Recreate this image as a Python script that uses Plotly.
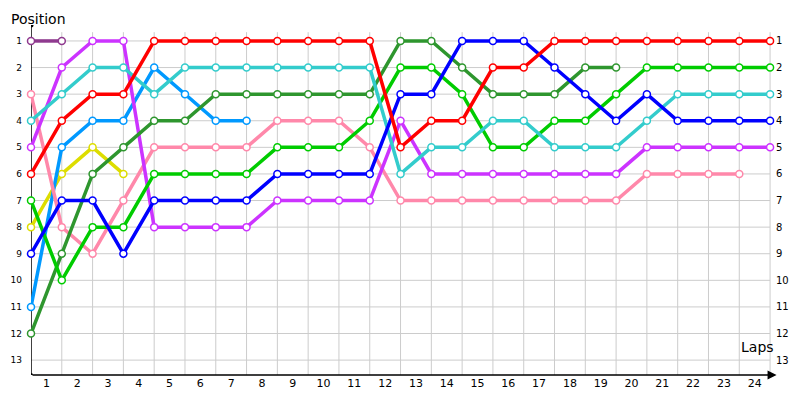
import plotly.graph_objects as go

laps = list(range(0, 25))
lap_labels = [str(i) for i in range(1, 25)]
positions = list(range(1, 14))

red = [6, 4, 3, 3, 1, 1, 1, 1, 1, 1, 1, 1, 5, 4, 4, 2, 2, 1, 1, 1, 1, 1, 1, 1, 1]
blue = [9, 7, 7, 9, 7, 7, 7, 7, 6, 6, 6, 6, 3, 3, 1, 1, 1, 2, 3, 4, 3, 4, 4, 4, 4]
cyan = [4, 3, 2, 2, 3, 2, 2, 2, 2, 2, 2, 2, 6, 5, 5, 4, 4, 5, 5, 5, 4, 3, 3, 3, 3]
green = [7, 10, 8, 8, 6, 6, 6, 6, 5, 5, 5, 4, 2, 2, 3, 5, 5, 4, 4, 3, 2, 2, 2, 2, 2]
darkgreen = [12, 9, 6, 5, 4, 4, 3, 3, 3, 3, 3, 3, 1, 1, 2, 3, 3, 3, 2, 2]
violet = [5, 2, 1, 1, 8, 8, 8, 8, 7, 7, 7, 7, 4, 6, 6, 6, 6, 6, 6, 6, 5, 5, 5, 5, 5]
pink = [3, 8, 9, 7, 5, 5, 5, 5, 4, 4, 4, 5, 7, 7, 7, 7, 7, 7, 7, 7, 6, 6, 6, 6]
lightblue = [11, 5, 4, 4, 2, 3, 4, 4]
yellow = [8, 6, 5, 6]
darkpurple = [1, 1]

series = [
    ("darkpurple", darkpurple, "#8f3a8f"),
    ("yellow", yellow, "#dddd00"),
    ("lightblue", lightblue, "#0099ff"),
    ("pink", pink, "#ff88aa"),
    ("violet", violet, "#cc33ff"),
    ("darkgreen", darkgreen, "#2e962e"),
    ("green", green, "#00cc00"),
    ("cyan", cyan, "#33cccc"),
    ("blue", blue, "#0000ff"),
    ("red", red, "#ff0000"),
]

XMAX = 24.16
YTOP = 0.40
YBOT = 13.56

# page body has an 8px default margin; compensate
OFF = 8
W, H = 800 - OFF, 400 - OFF
L, T = 31 - OFF, 25 - OFF
R, B = W - (775 - OFF), H - (375 - OFF)
PW, PH = W - L - R, H - T - B

fig = go.Figure()

shapes = []
for lp in laps[1:]:
    shapes.append(dict(type="line", xref="x", yref="y", x0=lp, x1=lp, y0=0.67, y1=YBOT,
                       line=dict(color="#cccccc", width=1), layer="below"))
for p in positions:
    shapes.append(dict(type="line", xref="x", yref="y", x0=0, x1=24, y0=p, y1=p,
                       line=dict(color="#cccccc", width=1), layer="below"))
shapes.append(dict(type="line", xref="x", yref="y", x0=0, x1=0, y0=YTOP, y1=YBOT,
                   line=dict(color="black", width=1.5), layer="below"))
shapes.append(dict(type="circle", xref="x", yref="y", xsizemode="pixel", ysizemode="pixel",
                   xanchor=0, yanchor=YTOP, x0=-2.5, x1=2.5, y0=-2.5, y1=2.5,
                   fillcolor="black", line=dict(color="black", width=0)))
shapes.append(dict(type="circle", xref="x", yref="y", xsizemode="pixel", ysizemode="pixel",
                   xanchor=0, yanchor=YBOT, x0=-2, x1=2, y0=-2, y1=2,
                   fillcolor="black", line=dict(color="black", width=0)))

for name, vals, col in series:
    fig.add_trace(go.Scatter(
        x=laps[:len(vals)], y=vals, mode="lines+markers", name=name,
        line=dict(color=col, width=3.5),
        marker=dict(size=7, color="white", line=dict(color=col, width=1.5)),
        cliponaxis=False, showlegend=False, hoverinfo="skip",
    ))

fig.add_trace(go.Scatter(x=[0], y=[1], yaxis="y2", mode="markers",
                         marker=dict(opacity=0), showlegend=False, hoverinfo="skip"))

annotations = [
    dict(x=XMAX + 0.05, y=YBOT, xref="x", yref="y", ax=0, ay=YBOT, axref="x", ayref="y",
         showarrow=True, arrowhead=2, arrowsize=1.2, arrowwidth=1.5, arrowcolor="black", text=""),
    dict(text="Position", xref="paper", yref="paper", x=-(L - 1) / PW, y=1 + (T - 1) / PH,
         xanchor="left", yanchor="top", showarrow=False,
         font=dict(family="DejaVu Sans", size=14, color="black")),
    dict(text="Laps", xref="paper", yref="paper", x=(776 - 31) / PW, y=(375 - 357) / PH,
         xanchor="right", yanchor="bottom", showarrow=False,
         font=dict(family="DejaVu Sans", size=14, color="black")),
]

fig.update_layout(
    width=W, height=H,
    margin=dict(l=L, r=R, t=T, b=B, autoexpand=False),
    paper_bgcolor="white", plot_bgcolor="white",
    shapes=shapes, annotations=annotations,
    xaxis=dict(range=[0, XMAX], tickvals=[i + 0.5 for i in range(24)], ticktext=lap_labels,
               showgrid=False, zeroline=False, showline=False, ticks="", automargin=False,
               tickfont=dict(family="DejaVu Sans", size=11, color="black"), fixedrange=True),
    yaxis=dict(range=[YBOT, YTOP], tickvals=positions, ticktext=[str(p) for p in positions],
               showgrid=False, zeroline=False, showline=False, ticks="", automargin=False,
               ticklabelstandoff=8,
               tickfont=dict(family="DejaVu Sans", size=9, color="black"), fixedrange=True),
    yaxis2=dict(range=[YBOT, YTOP], overlaying="y", side="right", tickvals=positions,
                ticktext=[str(p) for p in positions], showgrid=False, zeroline=False,
                showline=False, ticks="", automargin=False,
                tickfont=dict(family="DejaVu Sans", size=10, color="black"), fixedrange=True),
)

fig.write_html("out.html")
